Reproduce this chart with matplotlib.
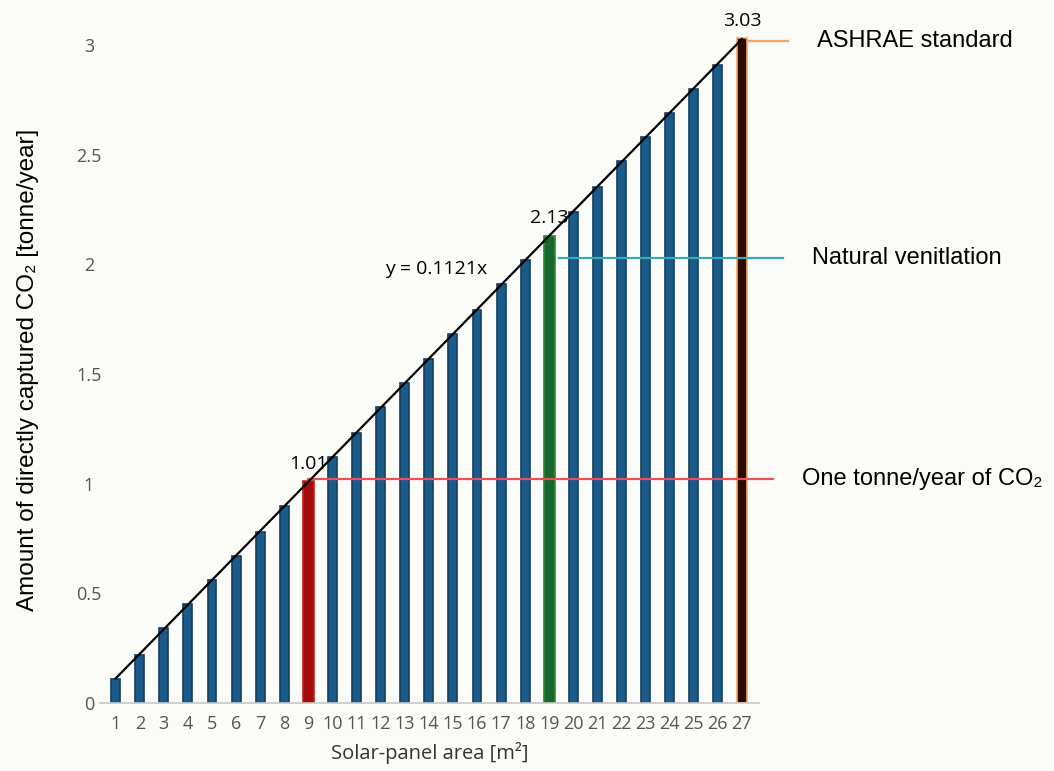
import matplotlib.pyplot as plt
import numpy as np

# solar-panel area [m2] and captured CO2 [tonne/year]
areas = list(range(1, 28))
captured = [0.11, 0.22, 0.34, 0.45, 0.56, 0.67, 0.78, 0.90, 1.01, 1.12, 1.23, 1.35, 1.46, 1.57,
            1.68, 1.79, 1.91, 2.02, 2.13, 2.24, 2.35, 2.47, 2.58, 2.69, 2.80, 2.91, 3.03]
slope = 0.1121

# highlighted bars: area -> (fill, edge, label)
highlights = {9: ("#a40c0c", "#c81e1e", "1.01"),
              19: ("#17682a", "#2a8a3a", "2.13"),
              27: ("#2a0c04", "#f4a660", "3.03")}

# reference levels drawn as horizontal lines
ref_names = ["ASHRAE standard", "Natural venitlation", "One tonne/year of CO₂"]
ref_levels = [3.02, 2.03, 1.02]
ref_colors = ["#f0a868", "#3aa8b8", "#e8505a"]

y_ticks = [0, 0.5, 1, 1.5, 2, 2.5, 3]
y_ticklabels = ["0", "0.5", "1", "1.5", "2", "2.5", "3"]

bg = "#fbfbf8"
blue = "#1b5b8a"
sans = ["Liberation Sans", "DejaVu Sans"]

fig = plt.figure(figsize=(10.54, 7.71), dpi=100, facecolor=bg)
ax = fig.add_axes([0.0949, 0.0882, 0.625, 0.882])
ax.set_facecolor(bg)

colors = [highlights[a][0] if a in highlights else blue for a in areas]
edges = [highlights[a][1] if a in highlights else "#123f63" for a in areas]
widths = [0.44 if a in highlights else 0.37 for a in areas]
ax.bar(areas, captured, width=widths, color=colors, edgecolor=edges, linewidth=1.2, zorder=2)

# linear fit through the bar tops
xs = np.array([areas[0], areas[-1]])
ax.plot(xs, slope * xs, color="black", lw=1.6, zorder=4)
ax.text(14.3, 1.98, "y = 0.1121x", fontsize=14, family="Open Sans", ha="center", va="center")

for a, (fc, ec, lab) in highlights.items():
    v = captured[areas.index(a)]
    ax.text(a, v + 0.04, lab, fontsize=14, family="Open Sans", ha="center", va="bottom", zorder=3)

# horizontal reference lines, each starting at its marker bar
starts = [27.25, 19.4, 9.0]
ends = [28.9, 28.7, 28.3]
for name, lvl, col, x0, x1 in zip(ref_names, ref_levels, ref_colors, starts, ends):
    ax.plot([x0, x1], [lvl, lvl], color=col, lw=1.6, zorder=3, clip_on=False)
    ax.text(x1 + 1.2, lvl, name, fontsize=17, family=sans, ha="left", va="center", clip_on=False)

ax.set_xlim(0.35, 27.7)
ax.set_ylim(0, 3.1)
ax.set_xticks(areas)
ax.set_xticklabels([str(a) for a in areas])
ax.set_yticks(y_ticks)
ax.set_yticklabels(y_ticklabels)
ax.tick_params(axis="both", length=0, labelsize=13, labelcolor="#555555")
ax.tick_params(axis="x", pad=9)
ax.tick_params(axis="y", pad=8)
for lab in ax.get_xticklabels() + ax.get_yticklabels():
    lab.set_family("Open Sans")
for lab in ax.get_yticklabels():
    lab.set_horizontalalignment("center")

for side in ["top", "right", "left"]:
    ax.spines[side].set_visible(False)
ax.spines["bottom"].set_color("#c8c8c8")
ax.spines["bottom"].set_linewidth(1.2)

ax.set_xlabel("Solar-panel area [m²]", fontsize=14.5, family="Open Sans", color="#333333", labelpad=6)
ax.set_ylabel("Amount of directly captured CO₂ [tonne/year]", fontsize=17.5, family=sans)
ax.yaxis.set_label_coords(-0.093, 0.49)

fig.savefig("out.png", dpi=100, facecolor=bg)
